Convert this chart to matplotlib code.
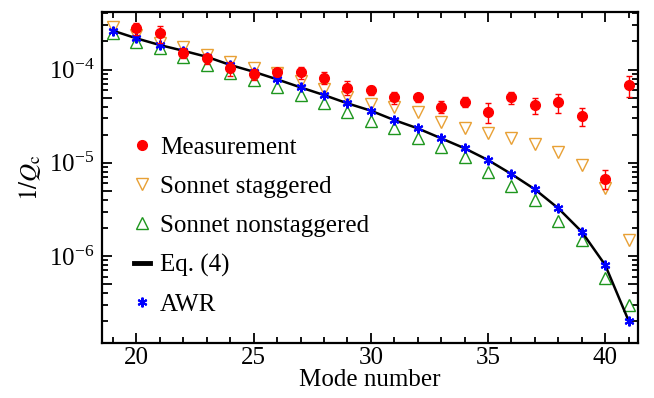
import matplotlib
matplotlib.use("Agg")
import matplotlib.pyplot as plt
from matplotlib.lines import Line2D
from matplotlib.ticker import LogLocator, LogFormatterSciNotation, NullFormatter, MultipleLocator

plt.rcParams["font.family"] = ["Liberation Serif", "DejaVu Serif"]
plt.rcParams["mathtext.fontset"] = "stix"
plt.rcParams["font.size"] = 18

# Mode numbers
modes_meas = list(range(20, 42))
modes_sim = list(range(19, 42))

# Measured 1/Qc with uncertainties
meas = [2.77e-4, 2.44e-4, 1.51e-4, 1.32e-4, 1.03e-4, 8.95e-5, 9.33e-5, 9.33e-5,
        8.17e-5, 6.38e-5, 6.03e-5, 5.03e-5, 5.03e-5, 3.99e-5, 4.51e-5, 3.53e-5,
        5.03e-5, 4.16e-5, 4.45e-5, 3.17e-5, 6.78e-6, 6.82e-5]
meas_err = [0.41e-4, 0.49e-4, 0.18e-4, 0.16e-4, 0.18e-4, 1.3e-5, 0.9e-5, 1.4e-5,
            1.2e-5, 1.1e-5, 0.7e-5, 0.75e-5, 0.5e-5, 0.6e-5, 0.55e-5, 0.88e-5,
            0.75e-5, 0.83e-5, 1.0e-5, 0.7e-5, 1.5e-6, 1.7e-5]

# Sonnet simulations
sonnet_stag = [2.88e-4, 2.34e-4, 1.91e-4, 1.73e-4, 1.43e-4, 1.21e-4, 1.03e-4, 9.1e-5,
               7.58e-5, 6.18e-5, 5.03e-5, 4.27e-5, 3.93e-5, 3.48e-5, 2.75e-5, 2.34e-5,
               2.07e-5, 1.83e-5, 1.59e-5, 1.31e-5, 9.46e-6, 5.36e-6, 1.48e-6]
sonnet_nonstag = [2.46e-4, 1.99e-4, 1.69e-4, 1.35e-4, 1.12e-4, 9.24e-5, 7.71e-5, 6.44e-5,
                  5.33e-5, 4.34e-5, 3.53e-5, 2.80e-5, 2.34e-5, 1.83e-5, 1.49e-5, 1.14e-5,
                  7.96e-6, 5.70e-6, 3.99e-6, 2.39e-6, 1.48e-6, 5.77e-7, 2.98e-7]

# Analytic model, Eq. (4)
eq4 = [2.61e-4, 2.16e-4, 1.83e-4, 1.59e-4, 1.37e-4, 1.12e-4, 9.47e-5, 7.85e-5,
       6.44e-5, 5.33e-5, 4.34e-5, 3.62e-5, 2.87e-5, 2.34e-5, 1.83e-5, 1.43e-5,
       1.07e-5, 7.57e-6, 5.19e-6, 3.25e-6, 1.82e-6, 8.01e-7, 2.02e-7]

# AWR simulation
awr = [2.61e-4, 2.16e-4, 1.83e-4, 1.59e-4, 1.37e-4, 1.12e-4, 9.47e-5, 7.85e-5,
       6.44e-5, 5.33e-5, 4.34e-5, 3.62e-5, 2.87e-5, 2.34e-5, 1.83e-5, 1.43e-5,
       1.07e-5, 7.57e-6, 5.19e-6, 3.25e-6, 1.82e-6, 8.01e-7, 2.02e-7]

legend_labels = ["Measurement", "Sonnet staggered", "Sonnet nonstaggered", "Eq. (4)", "AWR"]

fig = plt.figure(figsize=(6.54, 3.98), dpi=100)
ax = fig.add_axes([0.1567, 0.1394, 0.8188, 0.8304])

c_red = "#ff0000"
c_orange = "#e8a035"
c_green = "#1e961e"
c_blue = "#0000ff"

stag_style = dict(linestyle="none", marker="v", ms=9, mfc="none", mec=c_orange, mew=1.0)
non_style = dict(linestyle="none", marker="^", ms=9, mfc="none", mec=c_green, mew=1.0)
awr_style = dict(linestyle="none", marker=(6, 2, 0), ms=7, mec=c_blue, mew=1.5)
meas_style = dict(linestyle="none", marker="o", ms=7, color=c_red)

ax.plot(modes_sim, sonnet_stag, zorder=2, **stag_style)
ax.plot(modes_sim, sonnet_nonstag, zorder=2, **non_style)
ax.plot(modes_sim, eq4, color="black", lw=1.8, zorder=3)
ax.plot(modes_sim, awr, zorder=4, **awr_style)
ax.errorbar(modes_meas, meas, yerr=meas_err, fmt="o", ms=7, color=c_red,
            ecolor=c_red, elinewidth=1.0, capsize=2.5, capthick=1.0, zorder=5)

ax.set_yscale("log")
ax.set_xlim(18.55, 41.4)
ax.set_ylim(1.18e-7, 4.14e-4)

ax.xaxis.set_major_locator(MultipleLocator(5))
ax.xaxis.set_minor_locator(MultipleLocator(1))
ax.yaxis.set_major_locator(LogLocator(base=10, subs=(1.0, 5.0)))
ax.yaxis.set_major_formatter(LogFormatterSciNotation(labelOnlyBase=True))
ax.yaxis.set_minor_locator(LogLocator(base=10, subs=(2, 3, 4, 6, 7, 8, 9)))
ax.yaxis.set_minor_formatter(NullFormatter())

ax.tick_params(which="both", direction="in", top=True, right=True, width=1.3)
ax.tick_params(which="major", length=7)
ax.tick_params(which="minor", length=4)
ax.tick_params(axis="both", labelsize=18)
ax.tick_params(axis="x", pad=3)
ax.tick_params(axis="y", pad=6)
for s in ax.spines.values():
    s.set_linewidth(1.6)

ax.set_xlabel("Mode number", fontsize=18, labelpad=0)
ax.set_ylabel(r"$1/Q_\mathrm{c}$", fontsize=18, labelpad=4)

handles = [
    Line2D([], [], **meas_style),
    Line2D([], [], **stag_style),
    Line2D([], [], **non_style),
    Line2D([], [], color="black", lw=3.5),
    Line2D([], [], **awr_style),
]
ax.legend(handles, legend_labels, loc="upper left", bbox_to_anchor=(0.04, 0.655),
          borderaxespad=0, frameon=False, fontsize=18, handlelength=0.65,
          handletextpad=0.4, labelspacing=0.67)

fig.savefig("out.png", dpi=100)
